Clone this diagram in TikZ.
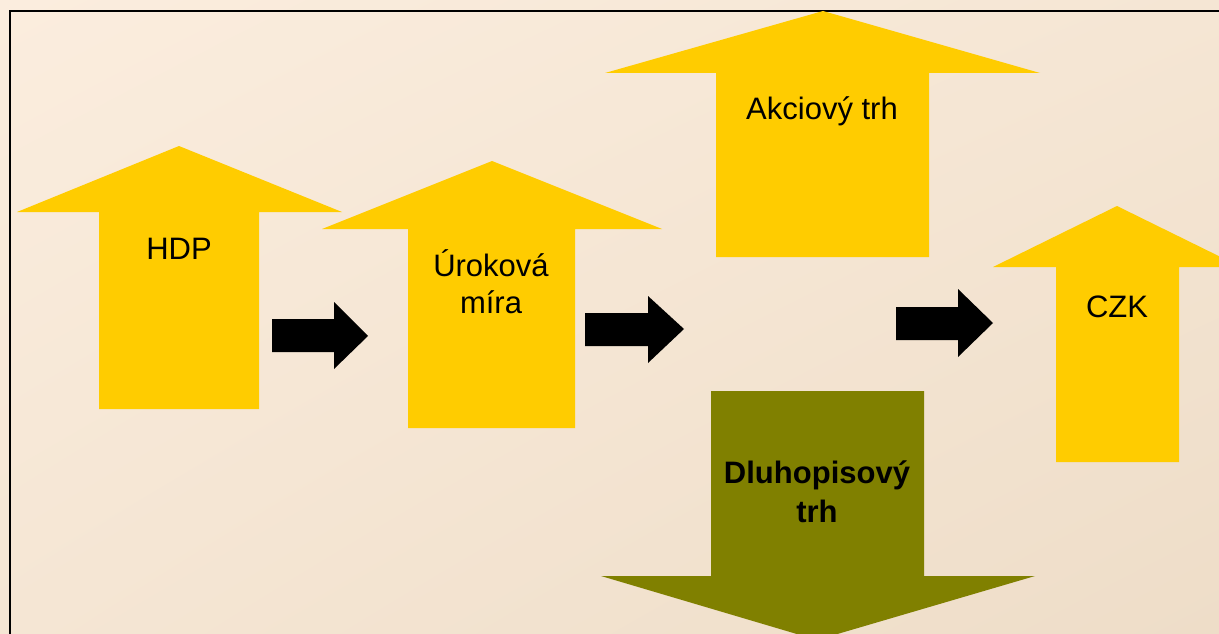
\documentclass[tikz,border=0pt]{standalone}
\usepackage{fontspec}
\setmainfont{Liberation Sans}
\usetikzlibrary{shadings}
\definecolor{bgTL}{HTML}{FBEDDE}
\definecolor{bgMid}{HTML}{F5E6D4}
\definecolor{bgBR}{HTML}{EEDDC8}
\definecolor{risecol}{HTML}{FFCC00}
\definecolor{fallcol}{HTML}{808000}
\begin{document}
\begin{tikzpicture}[x=1pt,y=-1pt,
  rise/.style={fill=risecol},
  fall/.style={fill=fallcol},
  link/.style={fill=black},
  label/.style={font=\fontsize{31}{37}\selectfont, align=center, inner sep=0pt, anchor=base},
  boldlabel/.style={label, font=\fontsize{31}{39}\selectfont\bfseries}]
\useasboundingbox (0,0) rectangle (1219,634);
\clip (0,0) rectangle (1219,634);
% page background and frame
\shade[upper left=bgTL, upper right=bgMid, lower left=bgMid, lower right=bgBR]
  (0,0) rectangle (1219,634);
\draw[line width=2.4pt] (10,11) rectangle (1245,670);

% rising block arrows
\fill[rise] (99,409) -- (99,212) -- (17,212) -- (179,146) -- (342,212)
  -- (259,212) -- (259,409) -- cycle;
\fill[rise] (408,428) -- (408,229) -- (322,229) -- (492,161) -- (662,229)
  -- (575,229) -- (575,428) -- cycle;
\fill[rise] (716,257) -- (716,73) -- (605,73) -- (823,11) -- (1040,73)
  -- (929,73) -- (929,257) -- cycle;
\fill[rise] (1056,462) -- (1056,267) -- (993,267) -- (1117,206) -- (1241,267)
  -- (1179,267) -- (1179,462) -- cycle;
% falling block arrow
\fill[fall] (711,391) -- (711,576) -- (601,576) -- (817,640) -- (1035,576)
  -- (924,576) -- (924,391) -- cycle;

% labels (multi-line labels sit on the baseline of their last line)
\node[label] (hdp) at (179,259) {HDP};
\node[label] (urok) at (491,313) {Úroková\\míra};
\node[label] (akcie) at (822,120) {Akciový trh};
\node[label] (czk) at (1117,317) {CZK};
\node[boldlabel] (dluh) at (817,522) {Dluhopisový\\trh};

% black linking arrows
\fill[link] (272,319) -- (334,319) -- (334,302) -- (368,336) -- (334,369)
  -- (334,352) -- (272,352) -- cycle;
\fill[link] (585,313) -- (648,313) -- (648,296) -- (684,329) -- (648,363)
  -- (648,346) -- (585,346) -- cycle;
\fill[link] (896,307) -- (958,307) -- (958,289) -- (993,323) -- (958,357)
  -- (958,340) -- (896,340) -- cycle;
\end{tikzpicture}
\end{document}
